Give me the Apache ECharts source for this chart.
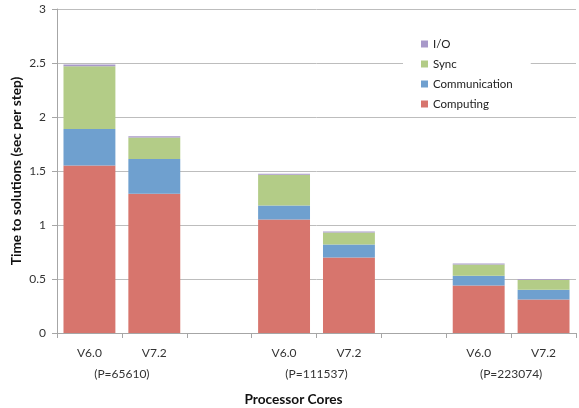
<!DOCTYPE html>
<html><head><meta charset="utf-8">
<script src="https://cdn.jsdelivr.net/npm/echarts@6/dist/echarts.min.js"></script>
<style>html,body{margin:0;padding:0;background:#fff}#c{width:579px;height:408px}</style>
</head><body><div id="c"></div>
<script>
var categories = ['V6.0', 'V7.2', '', 'V6.0', 'V7.2', '', 'V6.0', 'V7.2'];
var groupLabels = ['', '(P=65610)', '', '', '(P=111537)', '', '', '(P=223074)', ''];
var computing = [1.55, 1.29, null, 1.05, 0.70, null, 0.44, 0.31];
var communication = [0.34, 0.32, null, 0.13, 0.12, null, 0.09, 0.09];
var sync = [0.58, 0.20, null, 0.285, 0.11, null, 0.105, 0.09];
var io = [0.015, 0.012, null, 0.01, 0.01, null, 0.008, 0.007];
var yTicks = [0, 0.5, 1, 1.5, 2, 2.5, 3];

var font = 'Lato, "Open Sans", sans-serif';
var chart = echarts.init(document.getElementById('c'));
function ser(name, data, color) {
  return { name: name, type: 'bar', stack: 'total', data: data, barCategoryGap: '20%',
    itemStyle: { color: color }, emphasis: { disabled: true } };
}
chart.setOption({
  animation: false,
  grid: { left: 57, right: 3, top: 9, bottom: 75, containLabel: false, outerBoundsMode: 'none' },
  legend: {
    data: ['I/O', 'Sync', 'Communication', 'Computing'],
    orient: 'vertical', left: 403, top: 36, itemGap: 8,
    itemWidth: 7, itemHeight: 7, icon: 'rect',
    backgroundColor: '#fff', padding: [2, 18, 2, 18],
    textStyle: { fontFamily: font, fontSize: 11.5, color: '#222', padding: [0, 0, 0, 0] }
  },
  xAxis: [{
    type: 'category', data: categories,
    axisLine: { lineStyle: { color: '#a6a6a6' } },
    axisTick: { show: true, interval: 0, length: 5, lineStyle: { color: '#a6a6a6' } },
    axisLabel: { interval: 0, fontFamily: font, fontSize: 12, color: '#333', margin: 14 },
    name: 'Processor Cores', nameLocation: 'middle', nameGap: 60, nameMoveOverlap: false,
    nameTextStyle: { fontFamily: font, fontSize: 13.7, fontWeight: 'bold', color: '#111', padding: [0, 46, 0, 0] }
  }, {
    type: 'category', data: groupLabels, boundaryGap: false, position: 'bottom',
    axisLine: { show: false }, axisTick: { show: false }, splitLine: { show: false },
    axisLabel: { interval: 0, fontFamily: font, fontSize: 12, color: '#333', margin: 35 }
  }],
  yAxis: {
    type: 'value', min: 0, max: 3, interval: 0.5,
    axisLine: { show: true, lineStyle: { color: '#a6a6a6' } },
    axisTick: { show: true, length: 5, lineStyle: { color: '#a6a6a6' } },
    axisLabel: { fontFamily: font, fontSize: 12, color: '#333', margin: 11,
      formatter: function (v) { return yTicks.indexOf(v) >= 0 ? String(v) : ''; } },
    splitLine: { lineStyle: { color: '#bdbdbd', width: 1 } },
    name: 'Time to solutions (sec per step)', nameLocation: 'middle', nameGap: 33, nameMoveOverlap: false,
    nameTextStyle: { fontFamily: font, fontSize: 13.7, fontWeight: 'bold', color: '#111' }
  },
  series: [
    ser('Computing', computing, '#D7756D'),
    ser('Communication', communication, '#6FA0CF'),
    ser('Sync', sync, '#B3CC87'),
    ser('I/O', io, '#A899C9')
  ]
});
</script></body></html>
